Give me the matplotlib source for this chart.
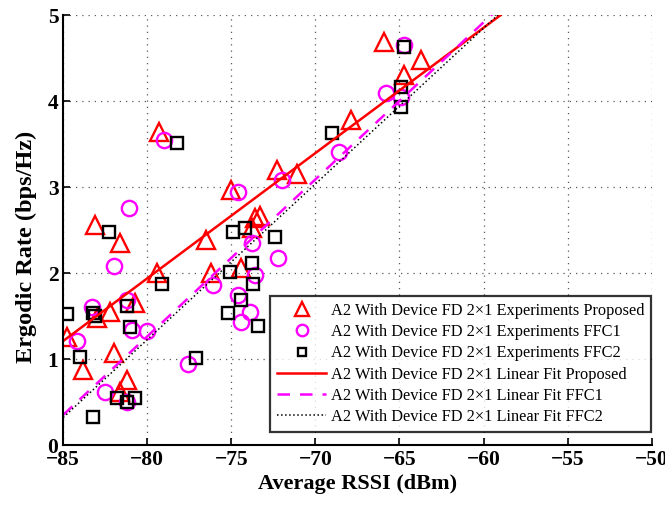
import numpy as np
import matplotlib
matplotlib.use("Agg")
import matplotlib.pyplot as plt

plt.rcParams['font.family'] = ['Liberation Serif', 'DejaVu Serif']

# measured points (RSSI dBm, ergodic rate bps/Hz)
prop_x = [-84.8, -83.8, -83.1, -83.0, -82.2, -82.0, -81.6, -81.6, -81.2, -80.7,
          -79.4, -79.3, -76.5, -76.2, -75.0, -74.4, -73.75, -73.6, -73.3, -72.3,
          -71.1, -67.9, -65.9, -64.75, -63.7]
prop_y = [1.26, 0.87, 2.56, 1.48, 1.55, 1.07, 2.35, 0.62, 0.76, 1.65,
          2.0, 3.64, 2.38, 2.0, 2.97, 2.06, 2.52, 2.64, 2.67, 3.2,
          3.15, 3.78, 4.69, 4.30, 4.48]

ffc1_x = [-84.2, -83.3, -82.5, -82.0, -81.2, -81.2, -81.1, -80.9, -80.0, -79.0,
          -77.6, -76.1, -74.6, -74.6, -74.4, -73.9, -73.75, -73.6, -72.2, -72.0,
          -68.6, -65.8, -64.9, -64.75]
ffc1_y = [1.21, 1.6, 0.62, 2.08, 1.69, 0.5, 2.76, 1.34, 1.33, 3.55,
          0.94, 1.86, 2.94, 1.74, 1.43, 1.55, 2.35, 1.98, 2.17, 3.08,
          3.41, 4.09, 4.05, 4.65]

ffc2_x = [-84.8, -84.0, -83.2, -83.1, -83.2, -82.3, -81.8, -81.2, -81.2, -81.0,
          -80.7, -79.1, -78.25, -77.1, -75.2, -75.1, -74.9, -74.4, -74.2, -73.8,
          -73.7, -73.4, -72.4, -69.0, -64.9, -64.9, -64.75]
ffc2_y = [1.52, 1.02, 1.53, 1.50, 0.33, 2.48, 0.55, 1.62, 0.5, 1.37,
          0.55, 1.87, 3.51, 1.01, 1.53, 2.01, 2.48, 1.69, 2.52, 2.12,
          1.87, 1.38, 2.42, 3.63, 3.93, 4.17, 4.63]

# linear fit end points
fit_x = [-85, -59]
fit_prop = [1.21, 5.0]
fit_ffc1 = [0.35, 5.10]
fit_ffc2 = [0.32, 5.03]

label_base = 'A2 With Device FD 2\u00d71 '

fig = plt.figure(figsize=(6.65, 5.08), dpi=100)
ax = fig.add_axes([0.095, 0.124, 0.885, 0.846])

ax.plot(prop_x, prop_y, '^', ms=12.5, mfc='none', mec='red', mew=1.7,
        label=label_base + 'Experiments Proposed')
ax.plot(ffc1_x, ffc1_y, 'o', ms=11, mfc='none', mec='magenta', mew=1.7,
        label=label_base + 'Experiments FFC1')
ax.plot(ffc2_x, ffc2_y, 's', ms=8.5, mfc='none', mec='black', mew=1.7,
        label=label_base + 'Experiments FFC2')
ax.plot(fit_x, fit_prop, '-', color='red', lw=1.8,
        label=label_base + 'Linear Fit Proposed')
ax.plot(fit_x, fit_ffc1, '--', color='magenta', lw=1.8, dashes=(5, 4),
        label=label_base + 'Linear Fit FFC1')
ax.plot(fit_x, fit_ffc2, ':', color='black', lw=1.1,
        label=label_base + 'Linear Fit FFC2')

ax.set_xlim(-85, -50)
ax.set_ylim(0, 5)
ax.set_xticks(np.arange(-85, -49, 5))
ax.set_yticks(np.arange(0, 6, 1))
ax.grid(True, linestyle=(0, (1, 4)), color='0.35', lw=0.9)
ax.spines['top'].set_visible(False)
ax.spines['right'].set_visible(False)
ax.spines['left'].set_linewidth(1.5)
ax.spines['bottom'].set_linewidth(1.5)
ax.tick_params(direction='in', length=5, width=1.2, labelsize=15.5)
for t in ax.get_xticklabels() + ax.get_yticklabels():
    t.set_fontweight('bold')

ax.set_xlabel('Average RSSI (dBm)', fontsize=16, fontweight='bold', labelpad=3)
ax.set_ylabel('Ergodic Rate (bps/Hz)', fontsize=17.5, fontweight='bold')
ax.yaxis.set_label_coords(-0.045, 0.46)

leg = ax.legend(loc='lower right', bbox_to_anchor=(1.013, 0.012), fontsize=11.8,
                frameon=True, fancybox=False, edgecolor='black',
                handlelength=3.0, handletextpad=0.3, labelspacing=0.32,
                borderpad=0.4, markerscale=0.75)
leg.get_frame().set_linewidth(1.6)

fig.savefig('out.png', dpi=100)
